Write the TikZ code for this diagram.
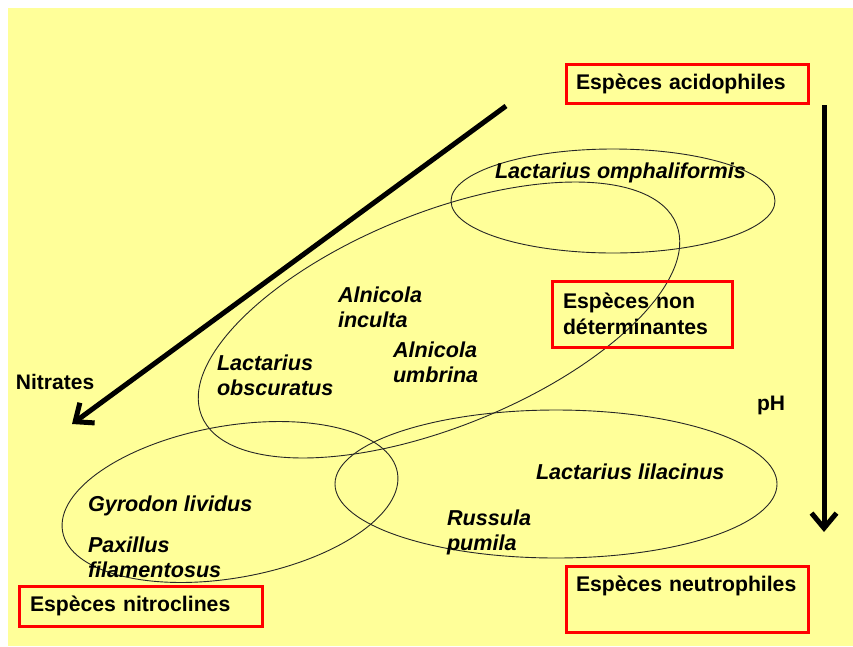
\documentclass[tikz,border=0pt]{standalone}
\usepackage{fontspec}
\setmainfont{Liberation Sans}
\usetikzlibrary{arrows.meta}
\definecolor{paper}{HTML}{FFFF99}
\definecolor{boxred}{HTML}{FF0000}
\begin{document}
\begin{tikzpicture}[x=1pt,y=1pt,
  every node/.style={inner sep=0pt, outer sep=0pt},
  species/.style={font=\fontsize{21.6}{25}\selectfont\bfseries\itshape, align=left, anchor=west},
  tag/.style={draw=boxred, line width=3pt, font=\fontsize{21.2}{26}\selectfont\bfseries,
    align=left, anchor=north west, inner xsep=10pt, inner ysep=9.5pt},
  axislabel/.style={font=\fontsize{21}{25}\selectfont\bfseries, anchor=west},
  zone/.style={draw=black!85, line width=0.9pt},
  trend/.style={line width=5pt, -{Straight Barb[length=15pt,width=25pt]}}
]
\useasboundingbox (0,0) rectangle (853,-646);
\fill[white] (0,0) rectangle (853,-646);
\fill[paper] (8,-8) rectangle (853,-646);

% ecological zones
\draw[zone] (613,-201) ellipse [x radius=162pt, y radius=52pt];
\draw[zone, rotate around={22:(439,-320)}] (439,-320) ellipse [x radius=256pt, y radius=107pt];
\draw[zone, rotate around={10:(230,-502)}] (230,-502) ellipse [x radius=170pt, y radius=76pt];
\draw[zone] (556,-484) ellipse [x radius=221pt, y radius=74pt];

% gradients
\coordinate (nitTop) at (506,-106);
\coordinate (nitTip) at (72,-424);
\coordinate (phTop) at (824,-105);
\coordinate (phTip) at (824,-532);
\draw[trend] (nitTop) -- (nitTip);
\draw[trend] (phTop) -- (phTip);
\node[axislabel] (nitrates) at (16,-382) {Nitrates};
\node[axislabel] (ph) at (757,-405) {pH};

% species
\node[species] (omph) at (495,-172.5) {Lactarius omphaliformis};
\node[species] (inculta) at (338,-307.5) {Alnicola\\inculta};
\node[species] (umbrina) at (393,-362.5) {Alnicola\\umbrina};
\node[species] (obscur) at (217,-375.5) {Lactarius\\obscuratus};
\node[species] (lilac) at (536,-471.5) {Lactarius lilacinus};
\node[species] (russula) at (447,-532.5) {Russula\\pumila};
\node[species] (gyrodon) at (88,-505.5) {Gyrodon lividus};
\node[species] (paxillus) at (88,-557.5) {Paxillus\\filamentosus};

% group labels
\node[tag, text width=222pt, minimum height=39pt] (acido) at (566,-64) {Espèces acidophiles};
\node[tag, inner xsep=11pt, text width=158pt, minimum height=66pt] (nondet) at (552,-281) {Espèces non\\déterminantes};
\node[tag, inner xsep=11pt, text width=221pt, minimum height=40pt] (nitro) at (19,-586) {Espèces nitroclines};
\node[tag, text width=222pt, minimum height=66pt, text height=15.5pt, text depth=31.5pt] (neutro) at (566,-566) {Espèces neutrophiles};
\end{tikzpicture}
\end{document}
